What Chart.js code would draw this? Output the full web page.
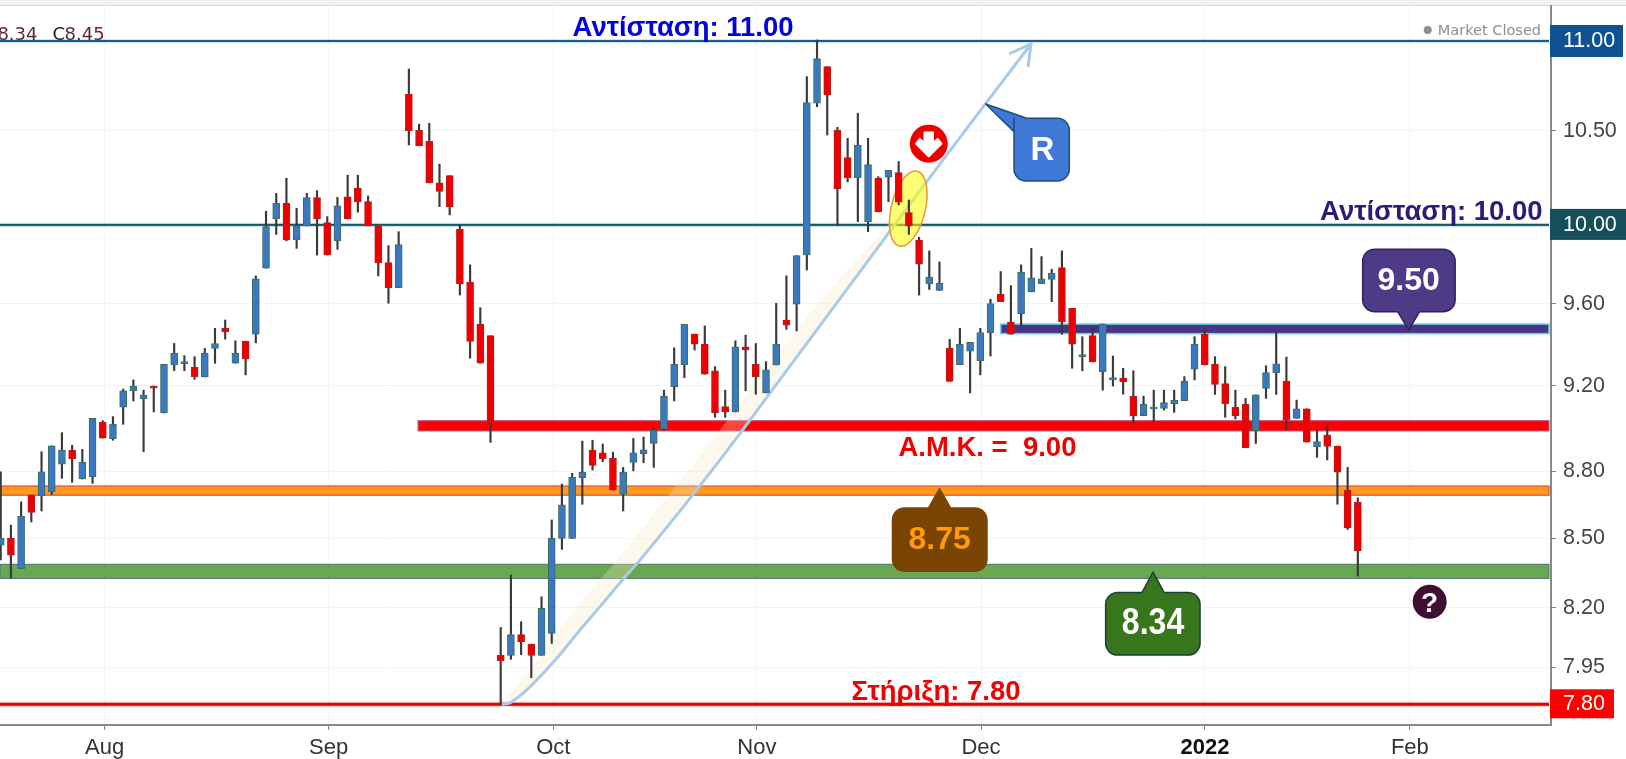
<!DOCTYPE html>
<html>
<head>
<meta charset="utf-8">
<script src="https://cdn.jsdelivr.net/npm/chart.js@4/dist/chart.umd.min.js"></script>
<style>
html, body { margin: 0; padding: 0; background: #fff; overflow: hidden; }
#wrap { width: 1626px; height: 759px; position: relative; }
</style>
</head>
<body>
<div id="wrap"><canvas id="stockChart" width="1626" height="759"></canvas></div>
<script>
// Daily candles
var candleOpen = [8.471,8.501,8.368,8.693,8.690,8.708,8.834,8.899,8.766,8.776,9.027,8.951,9.098,9.176,9.137,9.199,9.071,9.300,9.306,9.289,
    9.242,9.380,9.478,9.308,9.415,9.449,9.778,10.031,10.113,9.923,9.995,10.142,10.012,9.918,10.147,10.193,10.121,9.995,9.806,9.680,
    10.700,10.503,10.443,10.221,10.259,9.977,9.708,9.498,9.442,8.001,8.000,8.087,8.047,8.000,8.092,8.500,8.500,8.772,8.899,8.886,
    8.861,8.696,8.842,8.882,8.929,8.997,9.195,9.301,9.450,9.401,9.271,9.101,9.076,9.388,9.303,9.166,9.300,9.519,9.598,9.845,
    10.651,10.855,10.504,10.355,10.248,10.017,10.245,10.250,10.275,10.064,9.922,9.700,9.666,9.382,9.301,9.367,9.320,9.457,9.648,9.509,
    9.550,9.659,9.700,9.722,9.781,9.577,9.340,9.442,9.267,9.229,9.237,9.151,9.058,9.090,9.093,9.115,9.129,9.280,9.449,9.303,
    9.210,9.099,9.112,8.988,9.188,9.263,9.223,9.046,9.091,8.914,8.968,8.917,8.716,8.661];
var candleHigh = [8.799,8.559,8.663,8.693,8.891,8.918,8.979,8.921,8.902,9.046,9.035,9.054,9.184,9.228,9.179,9.199,9.303,9.404,9.345,9.340,
    9.380,9.478,9.519,9.417,9.415,9.739,10.071,10.165,10.245,10.087,10.165,10.179,10.043,10.144,10.261,10.261,10.151,9.995,9.893,9.965,
    10.841,10.536,10.541,10.320,10.259,10.000,9.795,9.580,9.442,8.117,8.341,8.141,8.047,8.247,8.582,8.743,8.792,8.940,8.944,8.926,
    8.889,8.819,8.952,8.959,8.999,9.179,9.383,9.498,9.450,9.490,9.292,9.179,9.417,9.445,9.404,9.316,9.602,9.740,9.842,10.799,
    11.006,10.855,10.519,10.459,10.596,10.459,10.253,10.287,10.334,10.130,9.936,9.866,9.810,9.424,9.478,9.409,9.478,9.622,9.761,9.690,
    9.795,9.879,9.837,9.773,9.866,9.577,9.437,9.478,9.499,9.343,9.284,9.272,9.151,9.179,9.179,9.179,9.244,9.437,9.478,9.340,
    9.292,9.179,9.140,9.157,9.296,9.465,9.338,9.132,9.091,8.996,9.015,8.917,8.819,8.681];
var candleLow = [8.406,8.327,8.368,8.573,8.622,8.696,8.769,8.751,8.766,8.746,8.954,8.944,9.018,9.128,8.891,9.076,9.071,9.272,9.272,9.231,
    9.242,9.308,9.425,9.308,9.252,9.407,9.778,9.951,9.918,9.879,9.995,9.845,9.845,9.874,10.031,10.066,9.995,9.739,9.602,9.680,
    10.423,10.419,10.220,10.095,10.052,9.643,9.332,9.308,8.934,7.800,7.984,8.003,7.908,8.000,8.050,8.452,8.500,8.652,8.807,8.845,
    8.716,8.622,8.803,8.840,8.819,8.991,9.128,9.239,9.372,9.255,9.051,9.051,9.076,9.176,9.160,9.166,9.300,9.473,9.465,9.769,
    10.632,10.477,9.996,10.225,10.017,9.965,10.068,10.121,10.104,9.951,9.643,9.671,9.666,9.221,9.301,9.166,9.252,9.343,9.610,9.449,
    9.481,9.659,9.700,9.610,9.449,9.284,9.272,9.314,9.179,9.199,9.160,9.023,9.058,9.030,9.085,9.074,9.129,9.228,9.300,9.159,
    9.051,9.043,8.909,8.929,9.140,9.159,8.991,9.046,8.935,8.865,8.853,8.652,8.540,8.336];
var candleClose = [8.501,8.427,8.599,8.616,8.799,8.918,8.899,8.859,8.842,9.046,8.954,9.019,9.176,9.199,9.156,9.189,9.303,9.356,9.313,9.243,
    9.356,9.404,9.460,9.356,9.329,9.724,9.991,10.113,9.922,9.995,10.142,10.031,9.845,10.099,10.031,10.120,9.995,9.805,9.680,9.898,
    10.501,10.419,10.220,10.175,10.095,9.700,9.414,9.308,9.023,7.977,8.087,8.056,8.000,8.198,8.501,8.649,8.774,8.798,8.828,8.859,
    8.716,8.798,8.886,8.900,8.991,9.151,9.303,9.498,9.401,9.255,9.073,9.076,9.388,9.372,9.243,9.276,9.401,9.493,9.842,10.654,
    10.900,10.697,10.189,10.248,10.421,10.317,10.068,10.287,10.118,9.995,9.798,9.732,9.703,9.221,9.401,9.409,9.457,9.600,9.610,9.449,
    9.759,9.730,9.724,9.753,9.509,9.401,9.347,9.314,9.499,9.236,9.219,9.057,9.112,9.099,9.120,9.132,9.223,9.401,9.300,9.207,
    9.115,9.057,8.909,9.157,9.263,9.305,9.038,9.091,8.935,8.938,8.915,8.797,8.547,8.446];

// Axis ticks (x is the trading day number)
var priceTicks = [11, 10.5, 10, 9.6, 9.2, 8.8, 8.5, 8.2, 7.95, 7.8];
var taggedPrices = [11, 10, 7.8];
var monthTicks = [10.18, 32.13, 54.15, 74.1, 96.07, 118.02, 138.1];
var monthLabels = ['Aug', 'Sep', 'Oct', 'Nov', 'Dec', '2022', 'Feb'];

// Trend line R
var trendDays = [49.1, 49.91, 51.22, 52.85, 54.49, 56.77, 59.06, 61.18, 62.65, 67.8, 72.7, 90.75, 100.97];
var trendPrices = [7.80, 7.806, 7.846, 7.912, 7.988, 8.106, 8.222, 8.332, 8.405, 8.693, 8.991, 10.227, 10.983];
var shadeDays = [49.1, 52.85, 56.77, 60.37, 69.71, 80.3, 90.75];
var shadePrices = [7.80, 7.994, 8.22, 8.405, 8.944, 9.618, 10.227];

var bodies = [], wicks = [], bodyColors = [], bodyBorders = [];
for (var i = 0; i < candleOpen.length; i++) {
    bodies.push({ x: i, y: [candleOpen[i], candleClose[i]] });
    wicks.push({ x: i, y: [candleLow[i], candleHigh[i]] });
    var up = candleClose[i] >= candleOpen[i];
    bodyColors.push(up ? '#3a78bf' : '#ee0000');
    bodyBorders.push(up ? '#3d6d5e' : '#b81c1c');
}
var trendLine = trendDays.map(function (d, k) { return { x: d, y: trendPrices[k] }; });

function px(chart, day) { return chart.scales.x.getPixelForValue(day); }
function py(chart, price) { return chart.scales.y.getPixelForValue(price); }

// rounded box with a pointer, corners listed clockwise from the first pointer base
function callout(ctx, tip, baseA, corners, baseB, fill, stroke) {
    ctx.beginPath();
    ctx.moveTo(tip[0], tip[1]);
    ctx.lineTo(baseA[0], baseA[1]);
    for (var c = 0; c < corners.length; c++) {
        var next = c + 1 < corners.length ? corners[c + 1] : baseB;
        ctx.arcTo(corners[c][0], corners[c][1], next[0], next[1], 12);
    }
    ctx.lineTo(baseB[0], baseB[1]);
    ctx.closePath();
    ctx.fillStyle = fill;
    ctx.fill();
    ctx.lineWidth = 1.5;
    ctx.strokeStyle = stroke;
    ctx.stroke();
}

function centerText(ctx, text, x, y, font, color) {
    ctx.font = font;
    ctx.fillStyle = color;
    ctx.textAlign = 'center';
    ctx.textBaseline = 'alphabetic';
    ctx.fillText(text, x, y);
}

function band(ctx, chart, left, hi, lo, fill, edge, edgeWidth) {
    var right = chart.chartArea.right - 2;
    var top = py(chart, hi), bottom = py(chart, lo);
    ctx.fillStyle = fill;
    ctx.fillRect(left, top, right - left, bottom - top);
    ctx.strokeStyle = edge;
    ctx.lineWidth = edgeWidth;
    ctx.strokeRect(left, top, right - left, bottom - top);
}

function level(ctx, chart, price, color, width, halo) {
    var y = py(chart, price), right = chart.chartArea.right - 2;
    ctx.fillStyle = halo;
    ctx.fillRect(0, y - width / 2 - 1, right, width + 2);
    ctx.fillStyle = color;
    ctx.fillRect(0, y - width / 2, right, width);
}

// Levels and shading go under the candles
var levelsPlugin = {
    id: 'levels',
    beforeDraw: function (chart) {
        var ctx = chart.ctx;
        ctx.save();
        ctx.fillStyle = '#ffffff';
        ctx.fillRect(0, 0, chart.width, chart.height);
        ctx.fillStyle = '#eff2f6';
        ctx.fillRect(0, 0, chart.width, 5);
        ctx.fillStyle = '#d9dbe0';
        ctx.fillRect(0, 5, chart.width, 1);
        ctx.restore();
    },
    beforeDatasetsDraw: function (chart) {
        var ctx = chart.ctx;
        ctx.save();
        band(ctx, chart, 0, 8.387, 8.326, '#6aa84f', '#4d7078', 1);
        band(ctx, chart, 0, 8.734, 8.693, '#ff9a1a', '#f2603a', 1.5);
        band(ctx, chart, px(chart, 40.9), 9.035, 8.987, '#ff0000', '#c0508a', 1);
        band(ctx, chart, px(chart, 98), 9.499, 9.452, '#4b3486', '#62d4ea', 1.5);
        level(ctx, chart, 11, '#1a5a96', 2, '#cfe3f2');
        level(ctx, chart, 10, '#1e5560', 2, '#bfe2e8');
        level(ctx, chart, 7.8, '#e60000', 3, '#ffc8c8');

        // cream shade along the trend line
        ctx.beginPath();
        ctx.moveTo(px(chart, shadeDays[0]), py(chart, shadePrices[0]));
        for (var s = 1; s < shadeDays.length; s++) {
            ctx.lineTo(px(chart, shadeDays[s]), py(chart, shadePrices[s]));
        }
        for (var t = trendDays.length - 2; t >= 0; t--) {
            ctx.lineTo(px(chart, trendDays[t]), py(chart, trendPrices[t]));
        }
        ctx.closePath();
        ctx.fillStyle = 'rgba(250, 232, 195, 0.3)';
        ctx.fill();
        ctx.restore();
    },
    // the trend line is drawn first, the ellipse covers it but not the candles
    afterDatasetDraw: function (chart, args) {
        if (args.index !== 0) return;
        var ctx = chart.ctx;
        ctx.save();
        ctx.beginPath();
        ctx.ellipse(px(chart, 88.94), py(chart, 10.085), 17, 38.5, 13.6 * Math.PI / 180, 0, Math.PI * 2);
        ctx.fillStyle = 'rgba(255, 255, 0, 0.55)';
        ctx.fill();
        ctx.strokeStyle = '#f0903a';
        ctx.lineWidth = 1.5;
        ctx.stroke();
        ctx.restore();
    },
    afterDatasetsDraw: function (chart) {
        var ctx = chart.ctx;
        var area = chart.chartArea;
        ctx.save();

        // price tags on the axis
        ctx.fillStyle = '#0f5291';
        ctx.fillRect(area.right - 1, py(chart, 11) - 16, 73, 32);
        ctx.fillStyle = '#15505a';
        ctx.fillRect(area.right - 1, py(chart, 10) - 16, 76, 31);
        ctx.fillStyle = '#ff0000';
        ctx.fillRect(area.right - 1, py(chart, 7.8) - 15, 64, 29);

        // arrow head of the trend line
        var tipX = px(chart, 100.97), tipY = py(chart, 10.983);
        ctx.beginPath();
        ctx.moveTo(tipX - 22, tipY + 10);
        ctx.lineTo(tipX, tipY);
        ctx.lineTo(tipX - 3, tipY + 23);
        ctx.strokeStyle = '#a9cbe8';
        ctx.lineWidth = 3;
        ctx.stroke();

        // red circle with down arrow
        var ax = px(chart, 90.95), ay = py(chart, 10.43);
        ctx.beginPath();
        ctx.arc(ax, ay, 19, 0, Math.PI * 2);
        ctx.fillStyle = '#ee0000';
        ctx.fill();
        ctx.beginPath();
        ctx.moveTo(ax - 4.5, ay - 11.5);
        ctx.lineTo(ax + 4.5, ay - 11.5);
        ctx.lineTo(ax + 4.5, ay - 1);
        ctx.lineTo(ax + 9, ay - 5);
        ctx.lineTo(ax + 13, ay);
        ctx.lineTo(ax, ay + 13);
        ctx.lineTo(ax - 13, ay);
        ctx.lineTo(ax - 9, ay - 5);
        ctx.lineTo(ax - 4.5, ay - 1);
        ctx.closePath();
        ctx.fillStyle = '#ffffff';
        ctx.strokeStyle = '#ffffff';
        ctx.lineJoin = 'round';
        ctx.lineWidth = 1.5;
        ctx.fill();
        ctx.stroke();

        // question mark circle
        var qx = px(chart, 140.04), qy = py(chart, 8.226);
        ctx.beginPath();
        ctx.arc(qx, qy, 17, 0, Math.PI * 2);
        ctx.fillStyle = '#3f0f33';
        ctx.fill();
        centerText(ctx, '?', qx, qy + 10, 'bold 28px "Liberation Sans"', '#ffffff');

        // callouts
        var rx = px(chart, 96.53), ry = py(chart, 10.647);
        callout(ctx, [rx, ry], [rx + 41, ry + 14.3],
            [[rx + 83.6, ry + 14.3], [rx + 83.6, ry + 77], [rx + 28.3, ry + 77], [rx + 28.3, ry + 14.3]],
            [rx + 28.3, ry + 27.7], '#3f78d6', '#1f4e79');
        centerText(ctx, 'R', rx + 56.6, ry + 56, 'bold 33px "Liberation Sans"', '#ffffff');

        var bx = px(chart, 137.98), by = py(chart, 9.47);
        callout(ctx, [bx, by], [bx - 11, by - 18.3],
            [[bx - 46, by - 18.3], [bx - 46, by - 80.7], [bx + 46.5, by - 80.7], [bx + 46.5, by - 18.3]],
            [bx + 11, by - 18.3], '#4f3a87', '#2e2458');
        centerText(ctx, '9.50', bx, by - 40, 'bold 32px "Liberation Sans"', '#ffffff');

        var ox = px(chart, 92.01), oy = py(chart, 8.723);
        callout(ctx, [ox, oy], [ox + 11, oy + 19.4],
            [[ox + 47.4, oy + 19.4], [ox + 47.4, oy + 82.7], [ox - 47.1, oy + 82.7], [ox - 47.1, oy + 19.4]],
            [ox - 11, oy + 19.4], '#7a4504', '#7a4504');
        centerText(ctx, '8.75', ox, oy + 61, 'bold 32px "Liberation Sans"', '#ff9a0a');

        var gx = px(chart, 112.93), gy = py(chart, 8.353);
        callout(ctx, [gx, gy], [gx + 11, gy + 20.3],
            [[gx + 47, gy + 20.3], [gx + 47, gy + 83], [gx - 47.4, gy + 83], [gx - 47.4, gy + 20.3]],
            [gx - 11, gy + 20.3], '#38761d', '#1f3f33');
        // this label is a bit narrower and taller in the picture
        ctx.save();
        ctx.translate(gx, gy + 62);
        ctx.scale(0.89, 1);
        centerText(ctx, '8.34', 0, 0, 'bold 36px "Liberation Sans"', '#ffffff');
        ctx.restore();

        // level captions
        centerText(ctx, 'Αντίσταση: 11.00', px(chart, 66.87), py(chart, 11) - 5, 'bold 27.5px "Liberation Sans"', '#0000e6');
        centerText(ctx, 'Αντίσταση: 10.00', px(chart, 140.2), py(chart, 10) - 4.5, 'bold 27.5px "Liberation Sans"', '#2e1a78');
        centerText(ctx, 'Α.Μ.Κ. =  9.00', px(chart, 96.7), py(chart, 9) + 28, 'bold 27.5px "Liberation Sans"', '#f00000');
        centerText(ctx, 'Στήριξη: 7.80', px(chart, 91.66), py(chart, 7.8) - 4, 'bold 27.5px "Liberation Sans"', '#f00000');

        // top left quote and market state
        ctx.font = '18px "DejaVu Sans"';
        ctx.textBaseline = 'alphabetic';
        ctx.textAlign = 'right';
        ctx.fillStyle = '#5e2a2a';
        ctx.fillText('8.34', 37.5, 40);
        ctx.fillText('8.45', 104.6, 40);
        ctx.fillStyle = '#222222';
        ctx.fillText('C', 65, 40);

        ctx.font = '14.5px "DejaVu Sans"';
        ctx.textAlign = 'right';
        ctx.fillStyle = '#8c8c8c';
        ctx.fillText('Market Closed', 1541, 35);
        ctx.beginPath();
        ctx.arc(1427.7, 30, 4, 0, Math.PI * 2);
        ctx.fill();
        ctx.restore();
    }
};

var stockChart = new Chart(document.getElementById('stockChart').getContext('2d'), {
    type: 'bar',
    data: {
        datasets: [
            {
                type: 'line',
                data: trendLine,
                borderColor: '#a9cbe8',
                borderWidth: 3,
                pointRadius: 0,
                tension: 0.3,
                order: 3
            },
            {
                data: wicks,
                backgroundColor: '#3a3a3a',
                barThickness: 1.5,
                grouped: false,
                order: 2
            },
            {
                data: bodies,
                backgroundColor: bodyColors,
                borderColor: bodyBorders,
                borderWidth: 1,
                borderSkipped: false,
                barThickness: 7,
                minBarLength: 2,
                grouped: false,
                order: 1
            }
        ]
    },
    options: {
        responsive: false,
        animation: false,
        layout: { padding: { top: 6, left: 0, right: 0, bottom: 0 } },
        plugins: { legend: { display: false }, tooltip: { enabled: false } },
        scales: {
            x: {
                type: 'linear',
                offset: false,
                bounds: 'data',
                min: -0.07,
                max: 151.93,
                grid: { color: '#f4f4f4', tickColor: '#888888', tickLength: 5, offset: false },
                border: { color: '#888888', width: 2 },
                afterBuildTicks: function (scale) {
                    scale.ticks = monthTicks.map(function (v) { return { value: v }; });
                },
                afterFit: function (scale) { scale.height = 34; scale.paddingLeft = 0; scale.paddingRight = 0; },
                ticks: {
                    autoSkip: false,
                    maxRotation: 0,
                    padding: 5,
                    color: function (c) { return monthLabels[c.index] === '2022' ? '#111111' : '#333333'; },
                    font: function (c) {
                        return { family: '"Liberation Sans"', size: 22, weight: monthLabels[c.index] === '2022' ? 'bold' : 'normal' };
                    },
                    callback: function (value, index) { return monthLabels[index]; }
                }
            },
            y: {
                type: 'logarithmic',
                position: 'right',
                bounds: 'data',
                min: 7.7167,
                max: 11.2014,
                grid: { color: '#f4f4f4', tickColor: '#888888', tickLength: 5 },
                border: { color: '#888888', width: 2 },
                afterBuildTicks: function (scale) {
                    scale.ticks = priceTicks.map(function (v) { return { value: v }; });
                },
                afterFit: function (scale) { scale.width = 75; scale.paddingTop = 0; scale.paddingBottom = 0; },
                ticks: {
                    autoSkip: false,
                    padding: 7,
                    z: 1,
                    color: function (c) { return taggedPrices.indexOf(priceTicks[c.index]) >= 0 ? '#ffffff' : '#444444'; },
                    font: { family: '"Liberation Sans"', size: 21.5 },
                    callback: function (value) { return Number(value).toFixed(2); }
                }
            }
        }
    },
    plugins: [levelsPlugin]
});
</script>
</body>
</html>
